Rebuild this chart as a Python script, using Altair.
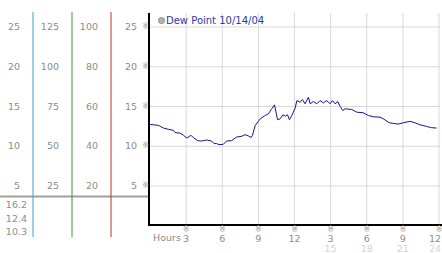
import altair as alt
import pandas as pd

# ---- data ----
hours = [0, 0.70, 1.12, 1.53, 1.95, 2.09, 2.50, 2.78, 3.05, 3.41, 3.60, 3.96, 4.29, 4.71,
         5.12, 5.32, 5.53, 5.73, 6.09, 6.36, 6.78, 7.19, 7.61, 7.89, 8.19, 8.40, 8.50, 8.74,
         9.16, 9.57, 9.84, 10.07, 10.34, 10.59, 10.81, 11.04, 11.23, 11.42, 11.58, 11.78,
         12.05, 12.20, 12.47, 12.66, 12.88, 13.16, 13.30, 13.57, 13.85, 14.12, 14.40, 14.68,
         14.95, 15.15, 15.37, 15.59, 15.78, 16.01, 16.20, 16.75, 17.17, 17.71, 18.13, 18.54,
         19.10, 19.37, 19.87, 20.20, 20.61, 21.03, 21.58, 22.00, 22.41, 22.97, 23.38, 23.79]
dew_point = [12.75, 12.63, 12.29, 12.13, 12.00, 11.71, 11.66, 11.38, 11.04, 11.38, 11.09, 10.71,
             10.66, 10.79, 10.66, 10.34, 10.34, 10.21, 10.25, 10.66, 10.71, 11.16, 11.25, 11.46,
             11.29, 11.10, 11.35, 12.63, 13.46, 13.88, 14.09, 14.63, 15.21, 13.34, 13.46, 13.96,
             13.79, 13.96, 13.34, 13.88, 14.79, 15.75, 15.54, 15.88, 15.34, 16.16, 15.34, 15.63,
             15.34, 15.75, 15.46, 15.75, 15.34, 15.75, 15.34, 15.63, 15.04, 14.50, 14.71, 14.63,
             14.29, 14.21, 13.88, 13.71, 13.66, 13.46, 12.96, 12.88, 12.79, 12.96, 13.13, 12.96,
             12.71, 12.50, 12.34, 12.29]

y_ticks = [25, 20, 15, 10, 5]
col_labels = [
    ["25", "20", "15", "10", "5"],
    ["125", "100", "75", "50", "25"],
    ["100", "80", "60", "40", "20"],
    ["25", "20", "15", "10", "5"],
]
line_colors = ["#3f9fd6", "#2f9f35", "#b83232"]
stats = ["16.2", "12.4", "10.3"]

x_ticks = [3, 6, 9, 12, 15, 18, 21, 24]
x_labels_12h = ["3", "6", "9", "12", "3", "6", "9", "12"]
x_labels_24h = ["", "", "", "", "15", "18", "21", "24"]
legend_label = "Dew Point 10/14/04"

# ---- tables ----
df_line = pd.DataFrame({"h": hours, "v": dew_point})
df_yt = pd.DataFrame({"v": y_ticks})
df_xt = pd.DataFrame({"h": x_ticks, "l12": x_labels_12h, "l24": x_labels_24h})
df_cols = pd.DataFrame([
    {"c": ci + 1, "v": y_ticks[k], "label": lab}
    for ci, labs in enumerate(col_labels) for k, lab in enumerate(labs)
])
df_clines = pd.DataFrame({"c": [1, 2, 3], "name": ["a", "b", "c"]})
df_stats = pd.DataFrame({"c": [1] * len(stats), "row": list(range(len(stats))), "s": stats})
one = pd.DataFrame({"a": [0]})

xs = alt.Scale(domain=[0, 24], range=[150, 439], nice=False, zero=False)
ys = alt.Scale(domain=[0, 25], range=[225.8, 27], nice=False, zero=False)
cs = alt.Scale(domain=[0, 4], range=[-6, 150], nice=False, zero=False)

FONT = "DejaVu Sans"
GRAY = "#8c8c8c"
MARK = "※"

grid_v = alt.Chart(df_xt).mark_rule(color="#d9d9d9", strokeWidth=1).encode(
    x=alt.X("h:Q", scale=xs, axis=None), y=alt.value(13), y2=alt.value(225))
grid_h = alt.Chart(df_yt).mark_rule(color="#d9d9d9", strokeWidth=1).encode(
    y=alt.Y("v:Q", scale=ys, axis=None), x=alt.value(150), x2=alt.value(440))

line = alt.Chart(df_line).mark_line(color="#141490", strokeWidth=1).encode(
    x=alt.X("h:Q", scale=xs, axis=None), y=alt.Y("v:Q", scale=ys, axis=None))

axis_v = alt.Chart(one).mark_rule(color="black", strokeWidth=2).encode(
    x=alt.value(149), y=alt.value(13), y2=alt.value(226))
axis_h = alt.Chart(one).mark_rule(color="black", strokeWidth=2).encode(
    y=alt.value(225), x=alt.value(148), x2=alt.value(442))

sep = alt.Chart(one).mark_rule(color="#a0a0a0", strokeWidth=2).encode(
    y=alt.value(196.5), x=alt.value(0), x2=alt.value(148))

clines = alt.Chart(df_clines).mark_rule(strokeWidth=1).encode(
    x=alt.X("c:Q", scale=cs, axis=None), y=alt.value(12), y2=alt.value(237),
    color=alt.Color("name:N", scale=alt.Scale(domain=["a", "b", "c"], range=line_colors), legend=None))

col_text = alt.Chart(df_cols).mark_text(align="right", baseline="middle", dx=-13,
                                         font=FONT, fontSize=9.5, color=GRAY).encode(
    x=alt.X("c:Q", scale=cs, axis=None), y=alt.Y("v:Q", scale=ys, axis=None), text="label:N")

ymarks = alt.Chart(df_yt).mark_text(text=MARK, font=FONT, fontSize=8, color="#a0a0a0",
                                    baseline="middle").encode(
    y=alt.Y("v:Q", scale=ys, axis=None), x=alt.value(145.5))

stat_text = alt.Chart(df_stats).mark_text(align="right", baseline="middle", dx=-6,
                                           font=FONT, fontSize=9.5, color=GRAY).encode(
    x=alt.X("c:Q", scale=cs, axis=None),
    y=alt.Y("row:Q", scale=alt.Scale(domain=[0, 2], range=[205, 232], nice=False, zero=False), axis=None),
    text="s:N")

xmarks = alt.Chart(df_xt).mark_text(text=MARK, font=FONT, fontSize=8, color="#a0a0a0",
                                    baseline="middle").encode(
    x=alt.X("h:Q", scale=xs, axis=None), y=alt.value(230))
xlab12 = alt.Chart(df_xt).transform_filter("datum.h < 24").mark_text(
    font=FONT, fontSize=9.5, color=GRAY, baseline="middle").encode(
    x=alt.X("h:Q", scale=xs, axis=None), y=alt.value(238.5), text="l12:N")
xlab24 = alt.Chart(df_xt).transform_filter("datum.h < 24").mark_text(
    font=FONT, fontSize=9.5, color="#d4d4d4", baseline="middle").encode(
    x=alt.X("h:Q", scale=xs, axis=None), y=alt.value(249), text="l24:N")
xlab12_end = alt.Chart(df_xt).transform_filter("datum.h >= 24").mark_text(
    font=FONT, fontSize=9.5, color=GRAY, baseline="middle", align="right", dx=2).encode(
    x=alt.X("h:Q", scale=xs, axis=None), y=alt.value(238.5), text="l12:N")
xlab24_end = alt.Chart(df_xt).transform_filter("datum.h >= 24").mark_text(
    font=FONT, fontSize=9.5, color="#d4d4d4", baseline="middle", align="right", dx=2).encode(
    x=alt.X("h:Q", scale=xs, axis=None), y=alt.value(249), text="l24:N")
hours_lab = alt.Chart(one).mark_text(text="Hours", font=FONT, fontSize=9.5, color=GRAY,
                                     align="left", baseline="middle").encode(
    x=alt.value(153), y=alt.value(237.5))

leg_pt = alt.Chart(one).mark_point(filled=True, shape="circle", size=36, fill="#b4b4b4",
                                   stroke="#8a8a8a", strokeWidth=1, opacity=1).encode(
    x=alt.value(161.5), y=alt.value(20.5))
leg_txt = alt.Chart(pd.DataFrame({"t": [legend_label]})).mark_text(
    font=FONT, fontSize=10, color="#2b3aa8", align="left", baseline="middle").encode(
    x=alt.value(166), y=alt.value(20.5), text="t:N")

chart = alt.layer(
    grid_v, grid_h, line, sep, clines, axis_v, axis_h, col_text, ymarks, stat_text,
    xmarks, xlab12, xlab24, xlab12_end, xlab24_end, hours_lab, leg_pt, leg_txt
).resolve_scale(x="independent", y="independent", color="independent").properties(
    width=442, height=253, autosize="none", padding=0, background="white"
).configure_view(stroke=None)

chart.save("out.html", embed_options={"renderer": "svg", "actions": False})
